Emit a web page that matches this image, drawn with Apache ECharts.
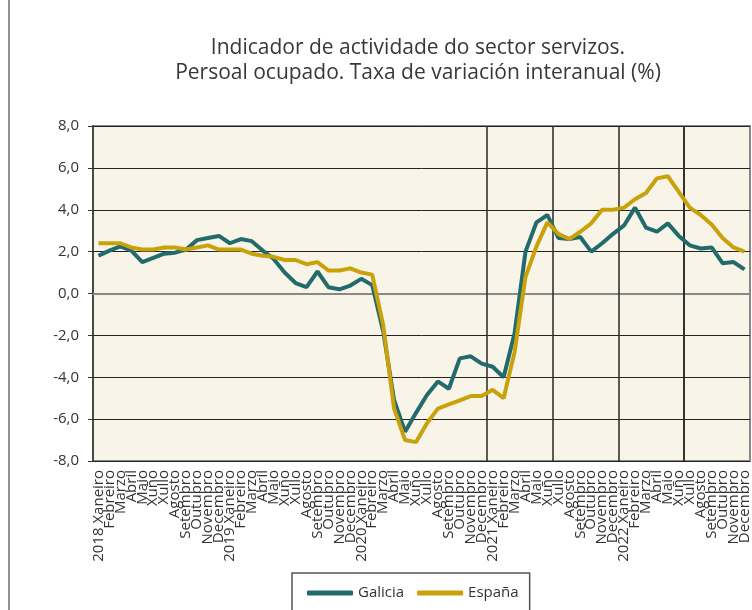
<!DOCTYPE html>
<html>
<head>
<meta charset="utf-8">
<script src="https://cdn.jsdelivr.net/npm/echarts@6/dist/echarts.min.js"></script>
<style>
  html, body { margin: 0; padding: 0; background: #fff; }
  #main { width: 752px; height: 610px; }
</style>
</head>
<body>
<div id="main"></div>
<script>
const years = ["2018", "2019", "2020", "2021", "2022"];
const months = ["Xaneiro", "Febreiro", "Marzo", "Abril", "Maio", "Xuño",
  "Xullo", "Agosto", "Setembro", "Outubro", "Novembro", "Decembro"];

const galicia = [
  1.8, 2.05, 2.25, 2.05, 1.5, 1.7, 1.9, 1.95, 2.1, 2.55, 2.65, 2.75,
  2.4, 2.6, 2.5, 2.05, 1.65, 1.0, 0.5, 0.3, 1.05, 0.3, 0.2, 0.38,
  0.7, 0.4, -1.8, -5.1, -6.6, -5.7, -4.85, -4.2, -4.55, -3.1, -3.0, -3.35,
  -3.5, -4.0, -1.9, 2.0, 3.4, 3.75, 2.65, 2.6, 2.7, 2.0, 2.4, 2.85,
  3.25, 4.1, 3.15, 2.95, 3.35, 2.75, 2.3, 2.15, 2.2, 1.45, 1.5, 1.15
];
const espana = [
  2.4, 2.4, 2.4, 2.2, 2.1, 2.1, 2.2, 2.2, 2.1, 2.2, 2.3, 2.1,
  2.1, 2.1, 1.9, 1.8, 1.75, 1.6, 1.6, 1.4, 1.5, 1.1, 1.1, 1.2,
  1.0, 0.9, -1.5, -5.5, -7.0, -7.1, -6.2, -5.5, -5.3, -5.1, -4.9, -4.9,
  -4.6, -5.0, -2.8, 0.8, 2.25, 3.4, 2.85, 2.6, 2.95, 3.35, 4.0, 4.0,
  4.1, 4.5, 4.8, 5.5, 5.6, 4.85, 4.1, 3.75, 3.3, 2.65, 2.2, 2.0
];

const categories = [];
years.forEach(function (y) {
  months.forEach(function (m, k) {
    categories.push(k === 0 ? y + " " + m : m);
  });
});

const font = "'Open Sans', 'Liberation Sans', sans-serif";
const chart = echarts.init(document.getElementById("main"));

const frame = {
  id: "frame",
  type: "line",
  shape: { x1: 9, y1: 0, x2: 9, y2: 610 },
  style: { stroke: "#222", lineWidth: 1 },
};

const option = {
  animation: false,
  textStyle: { fontFamily: font },
  title: {
    text: "Indicador de actividade do sector servizos.\nPersoal ocupado. Taxa de variación interanual (%)",
    left: 413,
    top: 31,
    textAlign: "center",
    textStyle: {
      fontFamily: font,
      fontSize: 21,
      fontWeight: "normal",
      color: "#383838",
      lineHeight: 25,
    },
  },
  graphic: [frame],
  grid: {
    left: 93,
    top: 126,
    right: 1,
    bottom: 149,
    show: true,
    backgroundColor: "#F8F4E7",
    borderColor: "#888",
    borderWidth: 2,
  },
  legend: {
    left: 292,
    top: 573,
    padding: [10, 11, 30, 15],
    borderColor: "#555",
    borderWidth: 1.5,
    itemWidth: 46,
    itemHeight: 5,
    itemGap: 13,
    icon: "roundRect",
    textStyle: { fontFamily: font, fontSize: 15, color: "#333", lineHeight: 20 },
    data: ["Galicia", "España"],
  },
  xAxis: {
    type: "category",
    data: categories,
    boundaryGap: true,
    axisLine: { show: true, lineStyle: { color: "#888", width: 2 } },
    axisTick: { show: false },
    axisLabel: {
      interval: 0,
      rotate: 90,
      margin: 9,
      fontSize: 15,
      color: "#333",
      fontFamily: font,
    },
  },
  yAxis: {
    type: "value",
    min: -8,
    max: 8,
    interval: 2,
    axisLine: { show: true, lineStyle: { color: "#333", width: 1.5 } },
    axisTick: { show: true, length: 5, lineStyle: { color: "#333" } },
    axisLabel: {
      margin: 14,
      fontSize: 15,
      color: "#333",
      fontFamily: font,
      formatter: function (v) {
        return v.toFixed(1).replace(".", ",");
      },
    },
    splitLine: { show: true, lineStyle: { color: "#222", width: 1 } },
  },
  series: [
    {
      name: "Galicia",
      type: "line",
      data: galicia,
      showSymbol: false,
      z: 3,
      color: "#236A6C",
      lineStyle: { width: 4, color: "#236A6C" },
    },
    {
      name: "España",
      type: "line",
      data: espana,
      showSymbol: false,
      z: 4,
      color: "#C9A20B",
      lineStyle: { width: 4, color: "#C9A20B" },
    },
  ],
};

chart.setOption(option);

// vertical grid lines every six months, on category boundaries via the axis scale
const yTop = chart.convertToPixel({ yAxisIndex: 0 }, 8);
const yBottom = chart.convertToPixel({ yAxisIndex: 0 }, -8);
const vLines = [frame];
for (let k = 6; k < categories.length; k += 6) {
  const xa = chart.convertToPixel({ xAxisIndex: 0 }, categories[k - 1]);
  const xb = chart.convertToPixel({ xAxisIndex: 0 }, categories[k]);
  const x = Math.round((xa + xb) / 2);
  vLines.push({
    id: "v" + k,
    type: "line",
    z: 1,
    silent: true,
    shape: { x1: x, y1: yTop, x2: x, y2: yBottom },
    style: { stroke: "#333", lineWidth: 1.6 },
  });
}
chart.setOption({ graphic: vLines });
</script>
</body>
</html>
